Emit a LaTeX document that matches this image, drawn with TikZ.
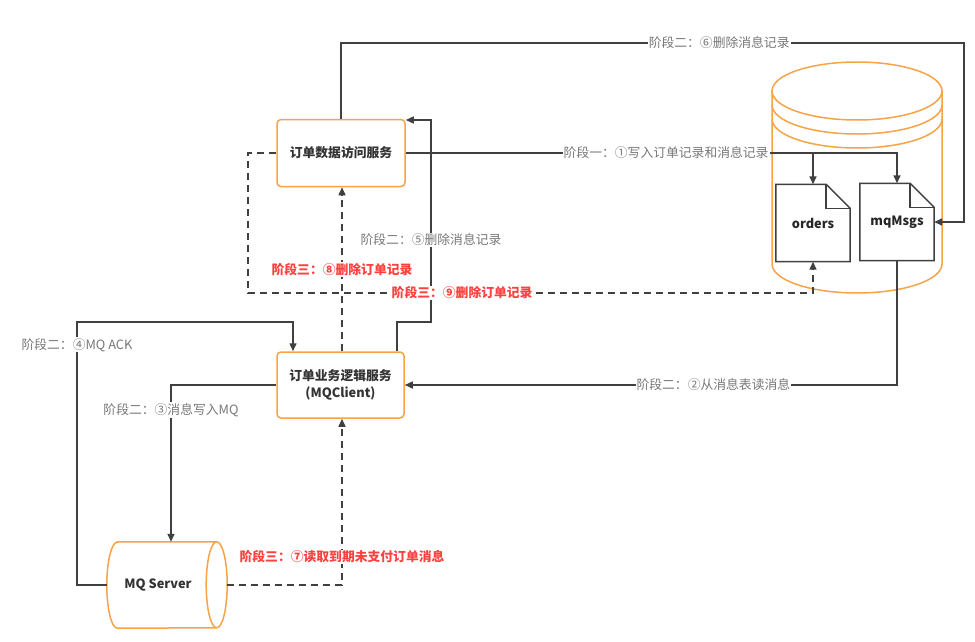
\documentclass[tikz,border=0pt]{standalone}
\usepackage{fontspec}
\setmainfont{Noto Sans CJK SC}
\usetikzlibrary{calc,positioning,arrows.meta}
\definecolor{boxorange}{RGB}{247,163,72}
\definecolor{linegray}{RGB}{64,64,64}
\definecolor{textgray}{RGB}{120,120,120}
\definecolor{stagered}{RGB}{255,64,64}

\begin{document}
\begin{tikzpicture}[x=1pt,y=-1pt,font=\fontsize{12.8}{15}\selectfont,
  svc/.style={draw=boxorange,line width=1.5pt,rounded corners=4pt,fill=white,minimum width=128pt,minimum height=67pt,
    inner sep=0pt,align=center,text=black!80,font=\fontsize{12.8}{17}\selectfont\bfseries},
  doc/.style={minimum width=74pt,minimum height=77pt,inner sep=0pt,text=black!85,font=\fontsize{12.8}{15}\selectfont\bfseries},
  flow/.style={draw=linegray,line width=1.5pt,-{Triangle[length=8pt,width=7pt]}},
  back/.style={flow,dash pattern=on 7pt off 5pt},
  lbl/.style={fill=white,text=textgray,inner sep=1pt},
  redlbl/.style={fill=white,text=stagered,inner sep=1pt,font=\fontsize{12.8}{15}\selectfont\bfseries}]
\useasboundingbox(0,0)rectangle(975,642);
\node[svc](dao)at(341,153){订单数据访问服务};
\node[svc,minimum width=127pt,minimum height=66pt](biz)at(340.5,385){订单业务逻辑服务\\(MQClient)};
\begin{scope}[draw=boxorange,line width=1.5pt]
\draw[fill=white](772,91)--(772,264)arc[start angle=180,end angle=360,x radius=85pt,y radius=29pt]--(942,91);
\draw(857,91)ellipse[x radius=85pt,y radius=29pt];
\draw(772,105)arc[start angle=180,end angle=360,x radius=85pt,y radius=29pt];
\draw(772,119)arc[start angle=180,end angle=360,x radius=85pt,y radius=29pt];
\end{scope}
\node[doc](orders)at(813,223){orders};
\node[doc](mqMsgs)at(897,222){mqMsgs};
\foreach\d in{orders,mqMsgs}{
  \draw[linegray,line width=1.5pt](\d.north west)--([xshift=-24pt]\d.north east)--([yshift=-24pt]\d.north east)
    --(\d.south east)--(\d.south west)--cycle;
  \draw[linegray,line width=1.5pt]([xshift=-24pt]\d.north east)|-([yshift=-24pt]\d.north east);
}
\node[minimum width=120pt,minimum height=86pt,inner sep=0pt](mq)at(167,585){};
\draw[boxorange,line width=1.5pt,fill=white]([xshift=10.5pt]mq.north west)--([xshift=-10.5pt]mq.north east)
  arc[start angle=90,end angle=-90,x radius=10.5pt,y radius=43pt]--([xshift=10.5pt]mq.south west)
  arc[start angle=270,end angle=90,x radius=10.5pt,y radius=43pt]--cycle;
\draw[boxorange,line width=1.5pt]([xshift=-10.5pt]mq.north east)arc[start angle=90,end angle=270,x radius=10.5pt,y radius=43pt];
\node[font=\fontsize{12.8}{15}\selectfont\bfseries,text=black!80](mqtext)at([xshift=-9pt]mq.center){MQ Server};
\draw[flow](dao.east)--node[lbl,pos=.53]{阶段一：①写入订单记录和消息记录}(mqMsgs.north|-dao.east)--(mqMsgs.north);
\draw[flow](orders.north|-dao.east)--(orders.north);
\draw[flow](dao.north)--(dao.north|-0,43)--node[lbl,pos=.607]{阶段二：⑥删除消息记录}(964,43)|-(mqMsgs.east);
\draw[flow](mqMsgs.south)--(mqMsgs.south|-biz.east)--node[lbl,pos=.373]{阶段二：②从消息表读消息}(biz.east);
\draw[flow](biz.west)--(171,385)--node[lbl,pos=.16]{阶段二：③消息写入MQ}(mq.north-|171,0);
\draw[flow](mq.west)--(77,585)--node[lbl,pos=.913]{阶段二：④MQ ACK}(77,322)-|(biz.north-|293,0);
\draw[flow](biz.north-|397,0)--(397,322)--(431,322)--node[lbl,pos=.406]{阶段二：⑤删除消息记录}(431,120)--(dao.east|-0,120);
\draw[back](mq.east)--(342,585)--node[redlbl,pos=.168]{阶段三：⑦读取到期未支付订单消息}(biz.south-|342,0);
\draw[back](biz.north-|342,0)--node[redlbl,pos=.497]{阶段三：⑧删除订单记录}(dao.south-|342,0);
\draw[back](dao.west)--(248,153)--(248,293)--node[redlbl,pos=.379]{阶段三：⑨删除订单记录}(orders.south|-0,293)--(orders.south);
\end{tikzpicture}
\end{document}
